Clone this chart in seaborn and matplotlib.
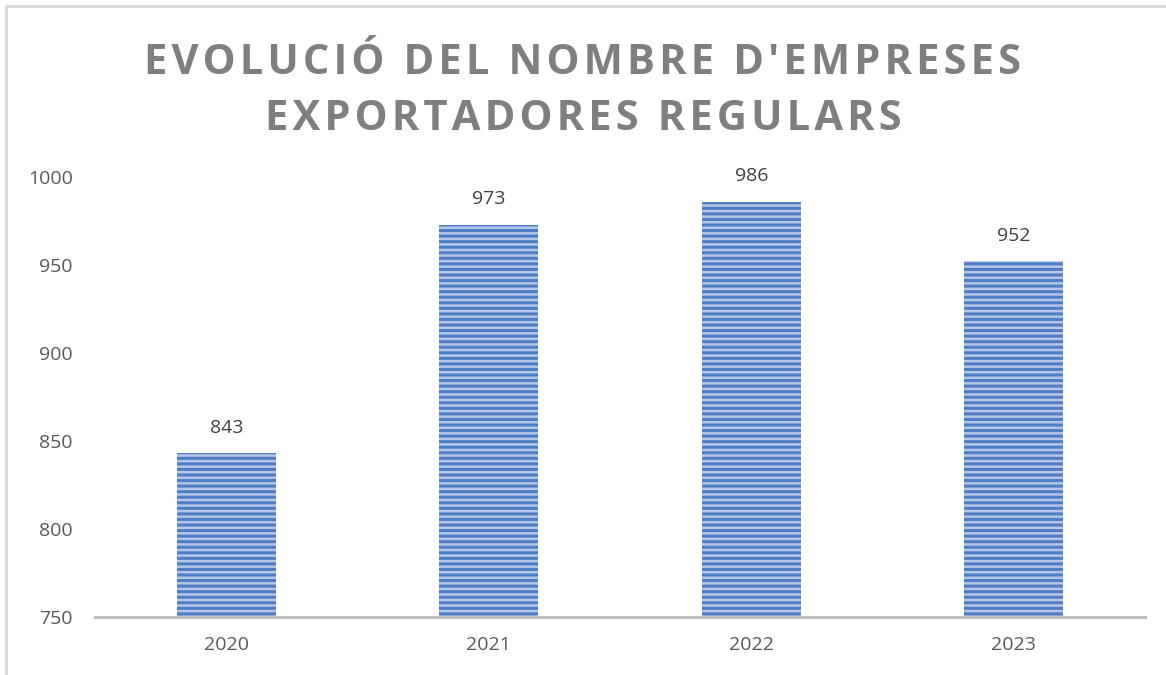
import numpy as np
import pandas as pd
import seaborn as sns
import matplotlib.pyplot as plt
from matplotlib.lines import Line2D

sns.set_theme(style='white')
plt.rcParams['font.family'] = ['Open Sans', 'DejaVu Sans']
plt.rcParams['hatch.linewidth'] = 2.2

# data
years = ['2020', '2021', '2022', '2023']
empreses = [843, 973, 986, 952]
title_lines = ["EVOLUCIÓ DEL NOMBRE D'EMPRESES", "EXPORTADORES REGULARS"]

df = pd.DataFrame({'any': years, 'empreses': empreses})

fig = plt.figure(figsize=(11.66, 6.75), dpi=100)
ax = fig.add_axes([0.0815, 0.0859, 0.9005, 0.6519])

sns.barplot(data=df, x='any', y='empreses', color='#b4c7e7', width=0.377,
            saturation=1, ax=ax)
for p in ax.patches:
    p.set_hatch('---')
    p.set_edgecolor('#4f7dc6')
    p.set_linewidth(0)

ax.set_ylim(750, 1000)
ax.set_xlim(-0.5, 3.5)
ax.set_yticks([750, 800, 850, 900, 950, 1000])
ax.set_xlabel('')
ax.set_ylabel('')
ax.tick_params(axis='both', length=0, labelsize=14, colors='#595959')
ax.tick_params(axis='y', pad=16)
ax.tick_params(axis='x', pad=14)
for s in ['top', 'right', 'left']:
    ax.spines[s].set_visible(False)
ax.spines['bottom'].set_color('#bfbfbf')
ax.spines['bottom'].set_linewidth(2.2)

for i, v in enumerate(empreses):
    ax.annotate(str(v), (i, v), xytext=(0, 12), textcoords='offset points',
                ha='center', va='bottom', fontsize=14, color='#404040')

# title with wide letter spacing
sp = '\u200a'
for k, line in enumerate(title_lines):
    txt = sp.join(line)
    fig.text(0.5, 1 - (74 + 56 * k) / 675, txt, ha='center', va='baseline',
             fontsize=30, fontweight='bold', color='#7f7f7f')

# chart frame
fig.add_artist(Line2D([0.0055, 0.0055], [0, 0.9905], color='#d9d9d9', lw=2))
fig.add_artist(Line2D([0.0055, 1], [0.9905, 0.9905], color='#d9d9d9', lw=2))

fig.savefig('out.png', dpi=100)
